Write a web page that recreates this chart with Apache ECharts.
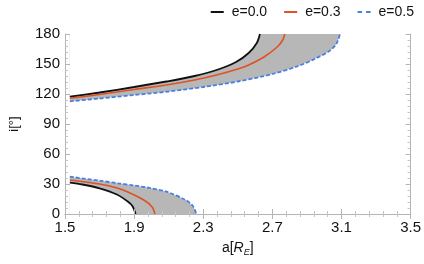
<!DOCTYPE html>
<html>
<head>
<meta charset="utf-8">
<script src="https://cdn.jsdelivr.net/npm/echarts@6/dist/echarts.min.js"></script>
<style>
html,body{margin:0;padding:0;background:#fff;}
#chart{width:424px;height:264px;}
</style>
</head>
<body>
<div id="chart"></div>
<script>
// ---- data ----
var xTicks = [1.5, 1.9, 2.3, 2.7, 3.1, 3.5];
var yTicks = [0, 30, 60, 90, 120, 150, 180];
var legendNames = ['e=0.0', 'e=0.3', 'e=0.5'];

// upper branch (retrograde)
var aUp0 = [1.528, 1.7, 1.9, 2.087, 2.25, 2.377, 2.49, 2.563, 2.61, 2.628];
var iUp0 = [117.3, 121.5, 127, 132.5, 138, 144, 152, 161, 171, 180];
var aUp3 = [1.528, 1.7, 1.9, 2.087, 2.25, 2.377, 2.5, 2.563, 2.656, 2.731, 2.76, 2.772];
var iUp3 = [115.7, 119.5, 124.5, 129, 134, 139, 145, 149, 157.5, 167.5, 174, 180];
var aUp5 = [1.528, 1.7, 1.9, 2.1, 2.3, 2.5, 2.7, 2.85, 2.95, 3.03, 3.07, 3.092];
var iUp5 = [112.7, 115.5, 119, 122.5, 127, 132.5, 140, 148, 155.5, 163, 170, 180];

// lower branch (prograde)
var aLo0 = [1.528, 1.6, 1.7, 1.8, 1.863, 1.89, 1.909];
var iLo0 = [31.3, 29.5, 25.7, 19.5, 12.5, 8, 0];
var aLo3 = [1.528, 1.7, 1.807, 1.863, 1.956, 2.003, 2.021];
var iLo3 = [34, 30, 25.7, 22, 14, 7.3, 0];
var aLo5 = [1.528, 1.7, 1.807, 1.9, 1.975, 2.087, 2.198, 2.24, 2.26];
var iLo5 = [37.3, 33.3, 30.7, 28.5, 26.5, 22.3, 14, 8, 0];

function pairs(xs, ys) { return xs.map(function (x, k) { return [x, ys[k]]; }); }

var C0 = '#111111', C3 = '#de5224', C5 = '#4a7fe0', FILL = '#b7b7b7';
var SM = 0.3;
var FONT = 'Liberation Sans';

function fill(data, color, origin) {
  return {
    type: 'line', data: data, smooth: SM, symbol: 'none', silent: true,
    lineStyle: { width: 0, opacity: 0 },
    areaStyle: { color: color, opacity: 1, origin: origin },
    z: 1, legendHoverLink: false
  };
}
function curve(name, data, color, width, type) {
  return {
    name: name, type: 'line', data: data, smooth: SM, symbol: 'none',
    lineStyle: { color: color, width: width, type: type },
    itemStyle: { color: color }, z: 5
  };
}

var axisCommon = {
  axisLine: { show: true, lineStyle: { color: '#b4b4b4', width: 1 } },
  axisTick: { show: true, inside: true, length: 5, lineStyle: { color: '#b4b4b4' } },
  minorTick: { show: true, splitNumber: 5, length: 3, lineStyle: { color: '#c4c4c4' } },
  splitLine: { show: false },
  z: 10
};

var SOLID_ICON = 'path://M0,0H13V2H0Z';
var DASH_ICON = 'path://M0,0H4.5V2H0Z M8.5,0H13V2H8.5Z';

var chart = echarts.init(document.getElementById('chart'), null, { renderer: 'canvas' });
chart.setOption({
  animation: false,
  backgroundColor: '#fff',
  textStyle: { fontFamily: FONT },
  grid: { left: 54, right: 11, top: 34, bottom: 50 },
  legend: {
    data: [
      { name: legendNames[0], icon: SOLID_ICON },
      { name: legendNames[1], icon: SOLID_ICON },
      { name: legendNames[2], icon: DASH_ICON }
    ],
    right: 5, top: 0, itemWidth: 13, itemHeight: 2, itemGap: 17,
    textStyle: { fontSize: 14, color: '#111', fontFamily: FONT, padding: [0, 0, 0, 3] }
  },
  xAxis: [
    Object.assign({}, axisCommon, {
      type: 'value', position: 'bottom', min: xTicks[0], max: xTicks[xTicks.length - 1],
      interval: xTicks[1] - xTicks[0],
      axisLabel: { fontSize: 15, color: '#111', margin: 6, fontFamily: FONT,
        formatter: function (v) { return v.toFixed(1); } },
      name: 'a[{it|R}{sub|E}]', nameLocation: 'middle', nameGap: 26,
      nameTextStyle: { fontSize: 14, color: '#111', fontFamily: FONT,
        rich: { it: { fontSize: 14, fontStyle: 'italic', color: '#111', fontFamily: FONT },
                sub: { fontSize: 9, fontStyle: 'italic', color: '#111', fontFamily: FONT, padding: [8, 0, 0, 0] } } }
    }),
    Object.assign({}, axisCommon, {
      type: 'value', position: 'top', min: xTicks[0], max: xTicks[xTicks.length - 1],
      interval: xTicks[1] - xTicks[0], axisLabel: { show: false }
    })
  ],
  yAxis: [
    Object.assign({}, axisCommon, {
      type: 'value', position: 'left', min: yTicks[0], max: yTicks[yTicks.length - 1],
      interval: yTicks[1] - yTicks[0],
      axisLabel: { fontSize: 15, color: '#111', margin: 5, fontFamily: FONT },
      name: 'i[°]', nameLocation: 'middle', nameGap: 44, nameRotate: 90,
      nameTextStyle: { fontSize: 13, color: '#111', fontFamily: FONT }
    }),
    Object.assign({}, axisCommon, {
      type: 'value', position: 'right', min: yTicks[0], max: yTicks[yTicks.length - 1],
      interval: yTicks[1] - yTicks[0], axisLabel: { show: false }
    })
  ],
  series: [
    fill(pairs(aUp5, iUp5), FILL, 'end'),
    fill(pairs(aUp0, iUp0), '#ffffff', 'end'),
    fill(pairs(aLo5, iLo5), FILL, 'start'),
    fill(pairs(aLo0, iLo0), '#ffffff', 'start'),
    curve(legendNames[0], pairs(aUp0, iUp0), C0, 1.8, 'solid'),
    curve(legendNames[0], pairs(aLo0, iLo0), C0, 1.8, 'solid'),
    curve(legendNames[1], pairs(aUp3, iUp3), C3, 1.6, 'solid'),
    curve(legendNames[1], pairs(aLo3, iLo3), C3, 1.6, 'solid'),
    curve(legendNames[2], pairs(aUp5, iUp5), C5, 1.8, [4, 2]),
    curve(legendNames[2], pairs(aLo5, iLo5), C5, 1.8, [4, 2])
  ]
});
</script>
</body>
</html>
